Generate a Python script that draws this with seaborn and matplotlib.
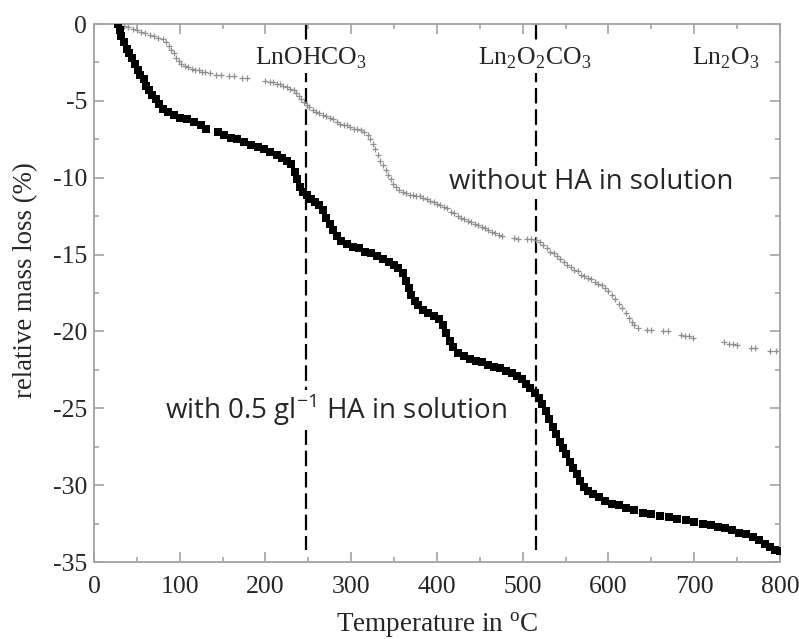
import matplotlib
matplotlib.use("Agg")
import matplotlib.pyplot as plt
from matplotlib.ticker import MultipleLocator
import numpy as np
import pandas as pd
import seaborn as sns

# TGA curve of the precipitate obtained with 0.5 g/l humic acid (black squares)
temp_with_ha = [
    28, 30, 32, 35, 38, 41, 44, 48, 51, 54, 58, 61, 64, 68, 72, 76, 80, 86, 93, 100,
    108, 117, 125, 131, 145, 152, 160, 167, 175, 183, 191, 198, 205, 213, 219, 225,
    230, 234, 237, 240, 244, 248, 253, 258, 263, 267, 271, 275, 279, 283, 288, 295,
    302, 309, 316, 323, 330, 337, 344, 350, 355, 360, 364, 367, 370, 374, 378, 384,
    390, 396, 402, 407, 411, 415, 419, 424, 431, 438, 445, 452, 459, 466, 473, 480,
    487, 493, 499, 504, 509, 514, 519, 523, 527, 531, 535, 539, 543, 547, 551, 555,
    559, 563, 567, 571, 576, 582, 589, 596, 604, 612, 621, 630, 640, 650, 660, 670,
    680, 690, 700, 710, 720, 728, 736, 744, 752, 760, 768, 775, 782, 788, 794, 800,
]
mass_with_ha = [
    0.0, -0.4, -0.8, -1.2, -1.6, -1.9, -2.2, -2.6, -3.0, -3.3, -3.6, -4.0, -4.3, -4.6,
    -4.9, -5.2, -5.5, -5.7, -5.9, -6.1, -6.2, -6.4, -6.6, -6.8, -7.0, -7.2, -7.4, -7.5,
    -7.7, -7.9, -8.0, -8.1, -8.3, -8.5, -8.7, -8.9, -9.1, -9.6, -10.1, -10.6, -10.9,
    -11.1, -11.4, -11.6, -11.8, -12.1, -12.6, -13.0, -13.4, -13.8, -14.1, -14.3, -14.5,
    -14.6, -14.8, -14.9, -15.1, -15.3, -15.5, -15.7, -15.9, -16.2, -16.7, -17.2, -17.6,
    -18.0, -18.3, -18.6, -18.8, -19.0, -19.2, -19.6, -20.1, -20.6, -21.0, -21.4, -21.6,
    -21.8, -21.9, -22.0, -22.2, -22.3, -22.4, -22.6, -22.7, -22.9, -23.1, -23.4, -23.7,
    -24.0, -24.3, -24.7, -25.2, -25.7, -26.2, -26.7, -27.2, -27.6, -28.0, -28.5, -28.9,
    -29.3, -29.7, -30.1, -30.4, -30.6, -30.8, -31.0, -31.2, -31.3, -31.5, -31.6, -31.8,
    -31.9, -32.0, -32.1, -32.2, -32.3, -32.4, -32.5, -32.6, -32.7, -32.8, -32.9, -33.1,
    -33.2, -33.4, -33.6, -33.8, -34.0, -34.2, -34.3,
]

# TGA curve of the precipitate obtained without humic acid (grey crosses)
temp_without_ha = [
    31, 35, 40, 45, 50, 55, 60, 65, 70, 75, 80, 84, 87, 90, 93, 96, 99, 102, 106, 110,
    114, 118, 122, 126, 130, 135, 142, 148, 158, 163, 173, 178, 200, 205, 209, 213, 217,
    221, 225, 229, 233, 236, 239, 242, 245, 248, 251, 255, 259, 263, 267, 271, 275, 279,
    283, 287, 291, 295, 299, 303, 307, 311, 315, 319, 322, 325, 328, 331, 334, 337, 340,
    343, 346, 349, 352, 356, 360, 364, 368, 372, 376, 380, 384, 388, 392, 396, 400, 404,
    408, 412, 416, 420, 424, 428, 432, 436, 440, 444, 448, 452, 456, 460, 464, 468, 472,
    476, 490, 494, 505, 510, 516, 520, 524, 528, 532, 536, 540, 544, 548, 552, 556, 560,
    564, 568, 572, 576, 580, 584, 588, 592, 596, 600, 604, 608, 612, 616, 620, 624, 627,
    630, 634, 645, 650, 664, 669, 684, 689, 694, 699, 735, 740, 745, 750, 766, 771, 788,
    795,
]
mass_without_ha = [
    0.0, -0.1, -0.2, -0.3, -0.4, -0.5, -0.6, -0.7, -0.8, -0.9, -1.0, -1.2, -1.4, -1.7,
    -1.9, -2.2, -2.4, -2.6, -2.7, -2.8, -2.9, -3.0, -3.0, -3.1, -3.1, -3.2, -3.3, -3.3,
    -3.4, -3.4, -3.5, -3.5, -3.7, -3.8, -3.8, -3.9, -3.9, -4.0, -4.1, -4.2, -4.3, -4.5,
    -4.7, -4.9, -5.1, -5.3, -5.4, -5.6, -5.7, -5.8, -5.9, -6.0, -6.1, -6.2, -6.4, -6.5,
    -6.6, -6.6, -6.7, -6.8, -6.8, -6.9, -7.0, -7.2, -7.5, -7.8, -8.1, -8.5, -8.9, -9.2,
    -9.5, -9.8, -10.1, -10.4, -10.6, -10.8, -10.9, -11.0, -11.1, -11.1, -11.2, -11.2,
    -11.3, -11.4, -11.5, -11.6, -11.7, -11.8, -11.9, -12.0, -12.2, -12.3, -12.5, -12.6,
    -12.7, -12.8, -12.9, -13.0, -13.1, -13.2, -13.3, -13.4, -13.5, -13.6, -13.7, -13.8,
    -13.9, -14.0, -14.0, -14.0, -14.05, -14.2, -14.4, -14.6, -14.8, -14.9, -15.1,
    -15.3, -15.5, -15.7, -15.8, -16.0, -16.1, -16.3, -16.4, -16.5, -16.6, -16.8, -16.9,
    -17.0, -17.2, -17.4, -17.6, -17.9, -18.2, -18.5, -18.8, -19.1, -19.4, -19.6, -19.8,
    -19.9, -19.9, -20.0, -20.0, -20.2, -20.3, -20.3, -20.4, -20.7, -20.8, -20.8, -20.9,
    -21.1, -21.1, -21.3, -21.3,
]

# decomposition temperatures and the phases formed there
phase_temps = [247, 516]
phase_labels = [r"LnOHCO$_{\mathrm{3}}$", r"Ln$_{\mathrm{2}}$O$_{\mathrm{2}}$CO$_{\mathrm{3}}$",
                r"Ln$_{\mathrm{2}}$O$_{\mathrm{3}}$"]
phase_label_x = [253, 514, 737]

x_ticks = [0, 100, 200, 300, 400, 500, 600, 700, 800]
y_ticks = [0, -5, -10, -15, -20, -25, -30, -35]

df_with = pd.DataFrame({"T": temp_with_ha, "m": mass_with_ha})
df_without = pd.DataFrame({"T": temp_without_ha, "m": mass_without_ha})

sns.set_style("ticks")
plt.rcParams["font.family"] = ["Liberation Serif", "DejaVu Serif"]
plt.rcParams["mathtext.fontset"] = "custom"
plt.rcParams["mathtext.rm"] = "Liberation Serif"
plt.rcParams["mathtext.sf"] = "Open Sans"
plt.rcParams["axes.unicode_minus"] = False

serif_size = 18.5
sans = ["Open Sans", "DejaVu Sans"]
frame_grey = "#a3a3a3"

fig = plt.figure(figsize=(7.99, 6.39), dpi=100)
ax = fig.add_axes([0.1176, 0.1205, 0.8586, 0.8419])

for x in phase_temps:
    ax.plot([x, x], [0, -34.2], color="black", lw=1.6, dashes=(7, 2.6), zorder=1)

sns.scatterplot(data=df_without, x="T", y="m", marker="+", s=22, color="#8f8f8f",
                linewidth=0.9, ax=ax, zorder=2)
sns.scatterplot(data=df_with, x="T", y="m", marker="s", s=30, color="black",
                linewidth=0, ax=ax, zorder=3)

ax.set_xlim(0, 800)
ax.set_ylim(-35, 0)
ax.set_xticks(x_ticks)
ax.set_yticks(y_ticks)
ax.xaxis.set_minor_locator(MultipleLocator(50))
ax.yaxis.set_minor_locator(MultipleLocator(2.5))
ax.tick_params(which="both", direction="in", top=True, right=True, color=frame_grey,
               width=1.2, labelsize=serif_size)
ax.tick_params(which="major", length=7)
ax.tick_params(which="minor", length=3.5)
ax.tick_params(axis="x", pad=10)
ax.tick_params(axis="y", pad=5)
for sp in ax.spines.values():
    sp.set_color(frame_grey)
    sp.set_linewidth(1.3)

ax.set_xlabel(r"Temperature in $^{\mathrm{o}}$C", fontsize=19.5, labelpad=9)
ax.set_ylabel("relative mass loss (%)", fontsize=19.3, labelpad=6)
ax.yaxis.set_label_coords(-0.082, 0.524)

white_box = dict(facecolor="white", edgecolor="none", pad=1.5)
for lx, lab in zip(phase_label_x, phase_labels):
    ax.text(lx, -2.65, lab, ha="center", va="baseline", fontsize=serif_size,
            bbox=white_box, zorder=4)

ax.text(580, -10.3, "without HA in solution", ha="center", va="center",
        family=sans, fontsize=19.8, bbox=white_box, zorder=4)
ax.text(282, -25.1, r"with 0.5 gl$^{\mathsf{-1}}$ HA in solution", ha="center",
        va="center", family=sans, fontsize=20, bbox=white_box, zorder=4)

fig.savefig("out.png", dpi=100)
